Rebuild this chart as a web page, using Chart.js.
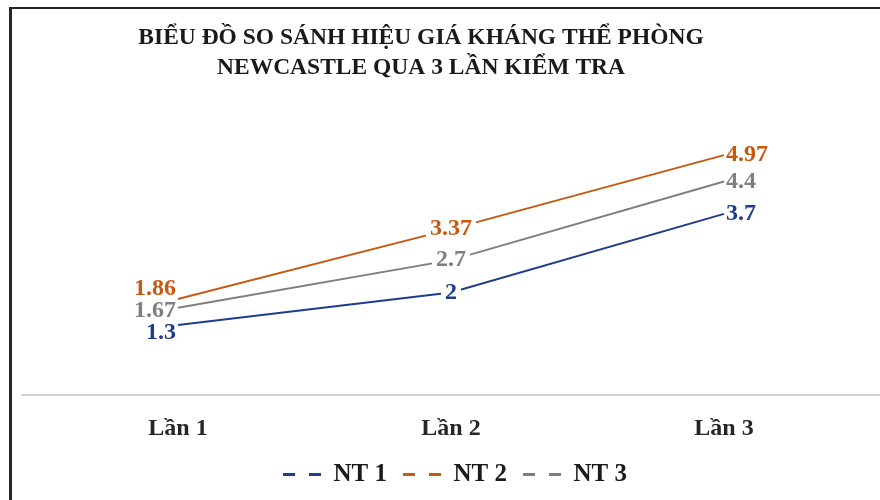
<!DOCTYPE html>
<html lang="vi">
<head>
<meta charset="utf-8">
<title>Biểu đồ hiệu giá kháng thể Newcastle</title>
<script src="https://cdn.jsdelivr.net/npm/chart.js@4.4.1/dist/chart.umd.min.js"></script>
<style>
  html, body { margin: 0; padding: 0; background: #fff; }
  #wrap { position: relative; width: 880px; height: 500px; overflow: hidden; }
  #chart { position: absolute; left: -38px; top: 0; }
  #frame {
    position: absolute; left: 9px; top: 7px; right: -10px; bottom: -10px;
    border-top: 2px solid #262626; border-left: 3px solid #262626;
    pointer-events: none;
  }
</style>
</head>
<body>
<div id="wrap">
  <canvas id="chart" width="918" height="497"></canvas>
  <div id="frame"></div>
</div>
<script>
const categories = ["Lần 1", "Lần 2", "Lần 3"];
const seriesNames = ["NT 1", "NT 2", "NT 3"];
const nt1 = [1.3, 2, 3.7];
const nt2 = [1.86, 3.37, 4.97];
const nt3 = [1.67, 2.7, 4.4];
const colors = ["#1f3d8c", "#c55a11", "#7f7f7f"];

const serif = "'Liberation Serif', 'Times New Roman', serif";

// data labels: left of first point, centred on middle one, right of last one.
// labels in the same column are pushed apart so they don't overlap
const pointLabels = {
  id: "pointLabels",
  afterDatasetsDraw(chart) {
    const ctx = chart.ctx;
    const gap = 22;
    ctx.save();
    ctx.font = "bold 24px " + serif;
    ctx.textBaseline = "middle";
    const n = chart.data.datasets[0].data.length;
    for (let i = 0; i < n; i++) {
      const items = chart.data.datasets.map((ds, di) => {
        const pt = chart.getDatasetMeta(di).data[i];
        return { ds, pt, y: pt.y, text: String(ds.data[i].y) };
      }).sort((a, b) => a.y - b.y);
      for (let pass = 0; pass < 5; pass++) {
        for (let k = 1; k < items.length; k++) {
          const d = items[k].y - items[k - 1].y;
          if (d < gap) {
            items[k - 1].y -= (gap - d) / 2;
            items[k].y += (gap - d) / 2;
          }
        }
      }
      items.forEach(it => {
        const w = ctx.measureText(it.text).width;
        let x = it.pt.x;
        if (i === 0) {
          ctx.textAlign = "right";
          x -= 2;
        } else if (i === n - 1) {
          ctx.textAlign = "left";
          x += 2;
        } else {
          ctx.textAlign = "center";
          ctx.fillStyle = "#fff";
          ctx.fillRect(x - w / 2 - 4, it.y - 12, w + 8, 24);
        }
        ctx.fillStyle = it.ds.borderColor;
        ctx.fillText(it.text, x, it.y);
      });
    }
    ctx.restore();
  }
};

const allSeries = [nt1, nt2, nt3];

new Chart(document.getElementById("chart"), {
  type: "line",
  data: {
    datasets: allSeries.map((vals, k) => ({
      label: seriesNames[k],
      data: vals.map((v, i) => ({ x: i + 1, y: v })),
      borderColor: colors[k],
      backgroundColor: colors[k],
      borderWidth: 2,
      pointRadius: 0,
      tension: 0
    }))
  },
  options: {
    responsive: false,
    animation: false,
    devicePixelRatio: 1,
    scales: {
      x: {
        type: "linear",
        min: 0.4286,
        max: 3.5714,
        grid: { display: false },
        border: { display: true, color: "#d0d0d0", width: 2 },
        ticks: {
          stepSize: 1,
          includeBounds: false,
          padding: 11,
          color: "#262626",
          font: { family: serif, size: 24, weight: "bold" },
          callback: v => categories[v - 1] || ""
        }
      },
      y: {
        min: -0.22,
        max: 6.14,
        grid: { display: false },
        border: { display: false },
        ticks: { display: false },
        afterFit: scale => { scale.width = 60; }
      }
    },
    plugins: {
      title: {
        display: true,
        text: ["BIỂU ĐỒ SO SÁNH HIỆU GIÁ KHÁNG THỂ PHÒNG", "NEWCASTLE QUA 3 LẦN KIỂM TRA"],
        color: "#1a1a1a",
        font: { family: serif, size: 23.5, weight: "bold", lineHeight: 1.277 },
        padding: { top: 23, bottom: 18 }
      },
      legend: {
        position: "bottom",
        fullSize: false,
        labels: {
          usePointStyle: true,
          pointStyleWidth: 46,
          padding: 8,
          color: "#1a1a1a",
          font: { family: serif, size: 25, weight: "bold" },
          // blank space first, then two dashes next to the text
          generateLabels: chart =>
            Chart.defaults.plugins.legend.labels.generateLabels(chart).map(item => ({
              ...item,
              pointStyle: "line",
              lineDash: [0, 8, 12, 14, 12, 60],
              lineWidth: 3
            }))
        }
      },
      tooltip: { enabled: false }
    }
  },
  plugins: [pointLabels]
});
</script>
</body>
</html>
